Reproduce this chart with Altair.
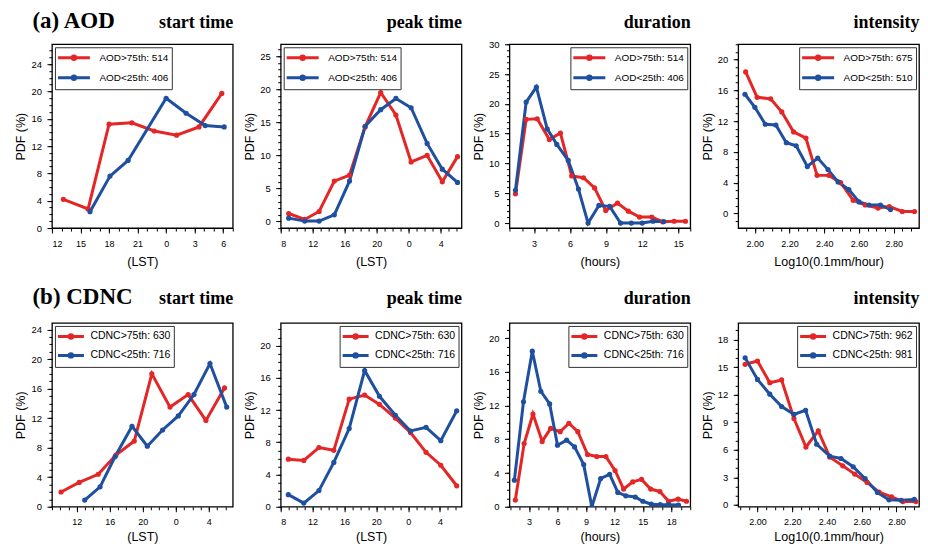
import altair as alt
import pandas as pd
import numpy as np

RED = "#e42626"
BLUE = "#1f4f9f"

# ---------------- (a) AOD ----------------
AOD_LABELS = ["AOD>75th: 514", "AOD<25th: 406"]
AOD_INT_LABELS = ["AOD>75th: 675", "AOD<25th: 510"]

AOD_START_HI_X = [13.2, 15.8, 18.0, 20.4, 22.75, 25.1, 27.45, 29.85]
AOD_START_HI_Y = [4.2, 2.8, 15.2, 15.4, 14.2, 13.6, 14.8, 19.7]
AOD_START_LO_X = [16.0, 18.1, 20.0, 24.0, 26.1, 28.1, 30.1]
AOD_START_LO_Y = [2.4, 7.6, 9.9, 19.0, 16.8, 15.0, 14.8]

AOD_PEAK_X = [9.0, 11.0, 12.8, 14.7, 16.6, 18.55, 20.5, 22.4, 24.3, 26.3, 28.2, 30.1]
AOD_PEAK_HI_Y = [1.2, 0.3, 1.5, 6.1, 7.0, 14.3, 19.5, 16.1, 9.0, 10.0, 6.0, 9.8]
AOD_PEAK_LO_Y = [0.5, 0.05, 0.05, 1.0, 6.1, 14.4, 16.9, 18.6, 17.2, 11.8, 7.9, 5.9]

AOD_DUR_HI_X = [1.46, 2.35, 3.27, 4.28, 5.2, 6.14, 7.12, 8.04, 8.97, 9.95, 10.85, 11.78, 12.8, 13.7, 14.66, 15.6]
AOD_DUR_HI_Y = [4.9, 17.4, 17.5, 14.0, 15.1, 7.9, 7.6, 5.9, 2.1, 3.35, 2.0, 1.0, 1.0, 0.2, 0.3, 0.3]
AOD_DUR_LO_X = [1.46, 2.35, 3.2, 4.1, 4.9, 5.85, 6.7, 7.5, 8.4, 9.3, 10.2, 11.1, 12.0, 12.9, 13.8]
AOD_DUR_LO_Y = [5.5, 20.3, 22.8, 15.8, 13.2, 10.5, 5.7, 0.0, 2.95, 2.8, 0.0, 0.0, 0.0, 0.3, 0.25]

AOD_INT_HI_X = [1.947, 2.013, 2.091, 2.155, 2.223, 2.294, 2.358, 2.426, 2.494, 2.566, 2.636, 2.709, 2.774, 2.849, 2.919]
AOD_INT_HI_Y = [18.4, 15.1, 14.9, 13.2, 10.6, 9.8, 4.95, 4.95, 4.0, 1.7, 1.1, 0.7, 0.9, 0.25, 0.25]
AOD_INT_LO_X = [1.943, 2.0, 2.06, 2.121, 2.181, 2.238, 2.302, 2.362, 2.421, 2.479, 2.541, 2.6, 2.657, 2.723, 2.781]
AOD_INT_LO_Y = [15.5, 13.8, 11.6, 11.5, 9.2, 8.8, 6.1, 7.2, 5.7, 4.1, 3.1, 1.5, 1.1, 1.1, 0.5]

# ---------------- (b) CDNC ----------------
CDNC_LABELS = ["CDNC>75th: 630", "CDNC<25th: 716"]
CDNC_INT_LABELS = ["CDNC>75th: 962", "CDNC<25th: 981"]

CDNC_START_HI_X = [10.1, 12.3, 14.6, 16.75, 18.97, 21.1, 23.3, 25.5, 27.65, 29.9]
CDNC_START_HI_Y = [2.0, 3.3, 4.4, 7.0, 8.9, 18.0, 13.5, 15.2, 11.7, 16.1]
CDNC_START_LO_X = [12.97, 14.83, 16.65, 18.7, 20.55, 22.4, 24.3, 26.2, 28.14, 30.17]
CDNC_START_LO_Y = [0.9, 2.7, 6.8, 10.9, 8.2, 10.4, 12.3, 15.2, 19.4, 13.5]

CDNC_PEAK_X = [8.96, 10.9, 12.8, 14.67, 16.6, 18.54, 20.4, 22.4, 24.3, 26.25, 28.1, 30.1]
CDNC_PEAK_HI_Y = [5.9, 5.75, 7.35, 7.0, 13.35, 13.85, 12.7, 11.0, 9.2, 6.75, 5.15, 2.6]
CDNC_PEAK_LO_Y = [1.5, 0.45, 2.0, 5.5, 9.7, 16.9, 13.7, 11.35, 9.4, 9.85, 8.2, 11.9]

CDNC_DUR_HI_X = [1.55, 2.48, 3.41, 4.38, 5.28, 6.28, 7.2, 8.14, 9.17, 10.14, 11.1, 12.07, 12.97, 13.93, 14.86, 15.83, 16.8, 17.72, 18.72, 19.6]
CDNC_DUR_HI_Y = [0.8, 7.5, 11.0, 7.75, 9.3, 8.9, 9.9, 8.9, 6.2, 5.95, 5.95, 4.3, 2.1, 2.95, 3.25, 2.1, 1.8, 0.65, 0.9, 0.65]
CDNC_DUR_LO_X = [1.45, 2.41, 3.34, 4.24, 5.17, 6.0, 6.96, 7.8, 8.76, 9.62, 10.55, 11.5, 12.36, 13.2, 14.2, 15.0, 15.9, 16.83, 17.7, 18.76]
CDNC_DUR_LO_Y = [3.15, 12.45, 18.45, 13.7, 12.2, 7.3, 7.9, 7.1, 5.0, 0.0, 3.35, 3.85, 1.7, 1.3, 1.15, 0.65, 0.3, 0.25, 0.25, 0.2]

CDNC_INT_HI_X = [1.929, 2.0, 2.071, 2.139, 2.21, 2.279, 2.35, 2.416, 2.491, 2.56, 2.631, 2.70, 2.772, 2.837, 2.912]
CDNC_INT_HI_Y = [15.3, 15.65, 13.3, 13.6, 9.4, 6.3, 8.05, 5.2, 4.25, 3.35, 2.45, 1.4, 0.87, 0.36, 0.36]
CDNC_INT_LO_X = [1.929, 2.0, 2.071, 2.139, 2.21, 2.277, 2.341, 2.416, 2.481, 2.551, 2.62, 2.691, 2.757, 2.828, 2.903]
CDNC_INT_LO_Y = [16.0, 13.65, 12.05, 10.7, 9.85, 10.3, 6.6, 5.3, 5.05, 4.15, 2.85, 1.35, 0.55, 0.5, 0.6]

# tick values
LST_TICKS_A1 = [12, 15, 18, 21, 24, 27, 30]
LST_TICKS_PEAK = [8, 12, 16, 20, 24, 28]
LST_TICKS_B1 = [12, 16, 20, 24, 28]
DUR_TICKS_A = [3, 6, 9, 12, 15]
DUR_TICKS_B = [3, 6, 9, 12, 15, 18]
INT_TICKS = [2.0, 2.2, 2.4, 2.6, 2.8]

W, H = 181, 184

ROW_STYLE = {
    "a": dict(path="M-2.667,0L2.667,0M-0.283,0A0.283,0.283,0,1,0,0.283,0A0.283,0.283,0,1,0,-0.283,0Z",
              so=8.5, lo=18, lfs=10, rp=3, xtp=7, ty=-16.5, row="(a) AOD"),
    "b": dict(path="M-2.167,0L2.167,0M-0.283,0A0.283,0.283,0,1,0,0.283,0A0.283,0.283,0,1,0,-0.283,0Z",
              so=5.5, lo=12, lfs=10.5, rp=2, xtp=4, ty=-19, row="(b) CDNC"),
}


def minor(dom, step):
    lo = np.ceil(dom[0] / step - 1e-9) * step
    vals = np.arange(lo, dom[1] + 1e-9, step)
    return [round(float(v), 4) for v in vals]


def top_title_axis(text, x, align, size, ty):
    return alt.Axis(orient="top", title=text, ticks=False, labels=False, domain=False, grid=False,
                    titleX=x, titleY=ty, titleAlign=align, titleBaseline="alphabetic", titleAngle=0,
                    titleFont="Liberation Serif", titleFontSize=size, titleFontWeight="bold",
                    titleColor="black")


def panel(hx, hy, lx, ly, labels, xdom, ydom, xmaj, xstep, ymaj, ystep,
          xtitle, title, legend_orient, row, xfmt=None, lst=False, first=False):
    st = ROW_STYLE[row]
    df = pd.DataFrame({
        "x": list(hx) + list(lx),
        "y": list(hy) + list(ly),
        "series": [labels[0]] * len(hx) + [labels[1]] * len(lx),
    })
    xs = alt.Scale(domain=xdom, nice=False, zero=False)
    ys = alt.Scale(domain=ydom, nice=False, zero=False)
    cs = alt.Scale(domain=labels, range=[RED, BLUE])
    xax = dict(values=xmaj, title=xtitle, orient="bottom", tickSize=5, labelFontSize=9,
               labelPadding=6, titleFontSize=12.5, titlePadding=st["xtp"])
    if lst:
        xax["labelExpr"] = "datum.value % 24"
    if xfmt:
        xax["format"] = xfmt
    yax = dict(values=ymaj, title="PDF (%)", orient="left", tickSize=5, labelFontSize=9.5,
               labelPadding=5.5, titleFontSize=12.5, titlePadding=3)
    leg = alt.Legend(title=None, orient=legend_orient, offset=3, padding=3,
                     symbolType=st["path"], symbolSize=144, symbolStrokeWidth=3,
                     symbolOffset=st["so"], labelOffset=st["lo"], labelFontSize=st["lfs"],
                     rowPadding=st["rp"], strokeColor="#333333", fillColor="white")
    base = alt.Chart(df)
    line = base.mark_line(strokeWidth=3, clip=True).encode(
        x=alt.X("x:Q", scale=xs, axis=alt.Axis(**xax)),
        y=alt.Y("y:Q", scale=ys, axis=alt.Axis(**yax)),
        color=alt.Color("series:N", scale=cs, legend=leg),
    )
    pts = base.mark_circle(size=27, opacity=1, clip=True).encode(
        x=alt.X("x:Q", scale=xs, axis=alt.Axis(values=minor(xdom, xstep), orient="bottom", tickSize=3,
                                              labels=False, title=None, domain=False, grid=False)),
        y=alt.Y("y:Q", scale=ys, axis=alt.Axis(values=minor(ydom, ystep), orient="left", tickSize=3,
                                              labels=False, title=None, domain=False, grid=False)),
        color=alt.Color("series:N", scale=cs, legend=None),
    )
    ttl = base.mark_point(opacity=0).encode(
        x=alt.X("x:Q", scale=xs, axis=top_title_axis(title, W, "right", 18, st["ty"])),
        y=alt.Y("y:Q", scale=ys, axis=None),
    )
    layers = [line, pts, ttl]
    if first:
        rowt = base.mark_point(opacity=0).encode(
            x=alt.X("x:Q", scale=xs, axis=top_title_axis(st["row"], -20, "left", 23, st["ty"])),
            y=alt.Y("y:Q", scale=ys, axis=None),
        )
        layers.append(rowt)
    return alt.layer(*layers).resolve_axis(x="independent", y="independent").properties(
        width=W, height=H)


a1 = panel(AOD_START_HI_X, AOD_START_HI_Y, AOD_START_LO_X, AOD_START_LO_Y, AOD_LABELS,
           [12, 31], [0, 26.9], LST_TICKS_A1, 1, [0, 4, 8, 12, 16, 20, 24], 1,
           "(LST)", "start time", "top-left", "a", lst=True, first=True)
a2 = panel(AOD_PEAK_X, AOD_PEAK_HI_Y, AOD_PEAK_X, AOD_PEAK_LO_Y, AOD_LABELS,
           [8, 30.6], [-1, 26.8], LST_TICKS_PEAK, 1, [0, 5, 10, 15, 20, 25], 1,
           "(LST)", "peak time", "top-left", "a", lst=True)
a3 = panel(AOD_DUR_HI_X, AOD_DUR_HI_Y, AOD_DUR_LO_X, AOD_DUR_LO_Y, AOD_LABELS,
           [0.96, 16.0], [-0.84, 30], DUR_TICKS_A, 1, [0, 5, 10, 15, 20, 25, 30], 1,
           "(hours)", "duration", "top-right", "a")
a4 = panel(AOD_INT_HI_X, AOD_INT_HI_Y, AOD_INT_LO_X, AOD_INT_LO_Y, AOD_INT_LABELS,
           [1.904, 2.945], [-1.9, 22], INT_TICKS, 0.05, [0, 4, 8, 12, 16, 20], 1,
           "Log10(0.1mm/hour)", "intensity", "top-right", "a", xfmt=".2f")

b1 = panel(CDNC_START_HI_X, CDNC_START_HI_Y, CDNC_START_LO_X, CDNC_START_LO_Y, CDNC_LABELS,
           [9, 30.9], [0, 24.9], LST_TICKS_B1, 1, [0, 4, 8, 12, 16, 20, 24], 1,
           "(LST)", "start time", "top-left", "b", lst=True, first=True)
b2 = panel(CDNC_PEAK_X, CDNC_PEAK_HI_Y, CDNC_PEAK_X, CDNC_PEAK_LO_Y, CDNC_LABELS,
           [8, 30.7], [0, 22.8], LST_TICKS_PEAK, 1, [0, 4, 8, 12, 16, 20], 1,
           "(LST)", "peak time", "top-right", "b", lst=True)
b3 = panel(CDNC_DUR_HI_X, CDNC_DUR_HI_Y, CDNC_DUR_LO_X, CDNC_DUR_LO_Y, CDNC_LABELS,
           [0.93, 20.0], [0, 21.8], DUR_TICKS_B, 1, [0, 4, 8, 12, 16, 20], 1,
           "(hours)", "duration", "top-right", "b")
b4 = panel(CDNC_INT_HI_X, CDNC_INT_HI_Y, CDNC_INT_LO_X, CDNC_INT_LO_Y, CDNC_INT_LABELS,
           [1.889, 2.93], [-0.2, 19.8], INT_TICKS, 0.05, [0, 3, 6, 9, 12, 15, 18], 1,
           "Log10(0.1mm/hour)", "intensity", "top-right", "b", xfmt=".2f")

chart = alt.concat(
    a1, a2, a3, a4, b1, b2, b3, b4,
    columns=4, spacing={"row": 95, "column": 48}, bounds="flush",
).resolve_scale(
    color="independent"
).properties(
    padding={"left": 6, "top": 0, "right": 0, "bottom": 0},
    background="white",
).configure_view(
    stroke="black", strokeWidth=1.3
).configure_axis(
    grid=False, domain=False, tickColor="black", tickWidth=1, labelColor="black",
    titleColor="black", labelFont="Liberation Sans", titleFont="Liberation Sans",
    titleFontWeight="normal"
).configure_legend(
    labelFont="Liberation Sans", labelColor="black", cornerRadius=0
)

chart.save("out.html", embed_options={"renderer": "svg", "actions": False})
